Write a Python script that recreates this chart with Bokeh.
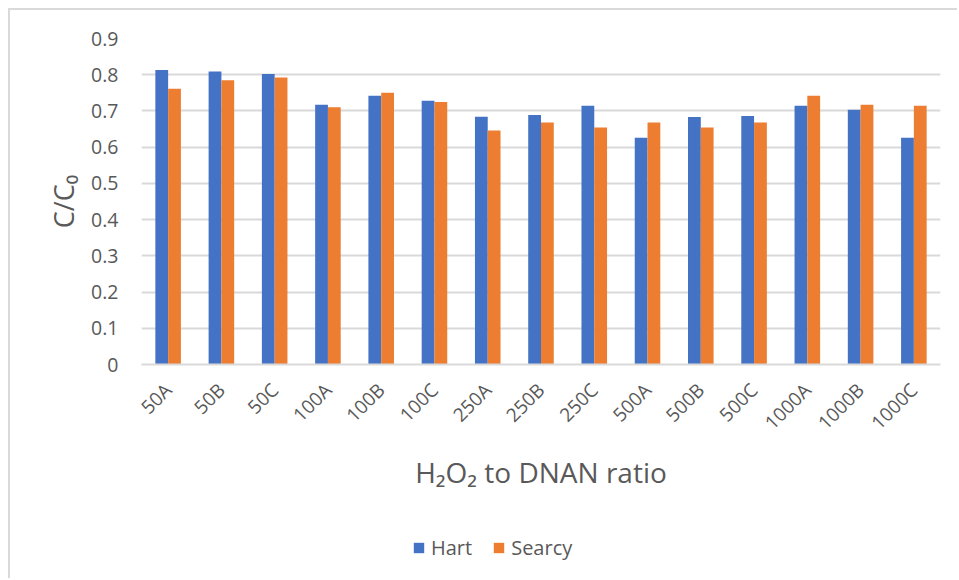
import math
from bokeh.plotting import figure
from bokeh.layouts import column
from bokeh.models import (ColumnDataSource, FactorRange, FixedTicker, NumeralTickFormatter,
                          Legend, LegendItem)
from bokeh.transform import dodge
from bokeh.embed import file_html
from bokeh.resources import INLINE

categories = ["50A", "50B", "50C", "100A", "100B", "100C", "250A", "250B", "250C",
              "500A", "500B", "500C", "1000A", "1000B", "1000C"]
hart = [0.813, 0.809, 0.802, 0.717, 0.742, 0.728, 0.684, 0.689, 0.714,
        0.626, 0.683, 0.686, 0.714, 0.703, 0.626]
searcy = [0.761, 0.785, 0.792, 0.710, 0.750, 0.725, 0.646, 0.668, 0.654,
          0.668, 0.654, 0.668, 0.742, 0.717, 0.714]
y_ticks = [0, 0.1, 0.2, 0.3, 0.4, 0.5, 0.6, 0.7, 0.8, 0.9]
series_names = ["Hart", "Searcy"]

BLUE = "#4472C4"
ORANGE = "#ED7D31"
GRID = "#d9d9d9"
TEXT = "#595959"
FONT = "Open Sans"

src = ColumnDataSource(data=dict(cat=categories, hart=hart, searcy=searcy))

p = figure(width=949, height=500, x_range=FactorRange(factors=categories),
           y_range=(0, 0.9), output_backend="svg", toolbar_location=None,
           min_border_left=131, min_border_right=19, min_border_top=28,
           min_border_bottom=146)
p.margin = (8, 0, 0, 8)
p.styles = {"border-top": f"2px solid {GRID}", "border-left": f"2px solid {GRID}"}
p.outline_line_color = None
p.background_fill_color = "white"
p.border_fill_color = "white"

r1 = p.vbar(x=dodge("cat", -0.12, range=p.x_range), top="hart", width=0.24,
            source=src, fill_color=BLUE, line_color=None)
r2 = p.vbar(x=dodge("cat", 0.12, range=p.x_range), top="searcy", width=0.24,
            source=src, fill_color=ORANGE, line_color=None)

p.xgrid.grid_line_color = None
p.ygrid.grid_line_color = GRID
p.ygrid.grid_line_width = 2
p.ygrid.ticker = FixedTicker(ticks=y_ticks)

p.yaxis.ticker = FixedTicker(ticks=y_ticks)
p.yaxis.formatter = NumeralTickFormatter(format="0.[0]")
p.yaxis.axis_line_color = None
p.yaxis.major_tick_line_color = None
p.yaxis.minor_tick_line_color = None
p.yaxis.major_label_standoff = 17
p.yaxis.major_label_text_font = FONT
p.yaxis.major_label_text_font_size = "19.5px"
p.yaxis.major_label_text_color = TEXT
p.yaxis.axis_label = "C/C₀"
p.yaxis.axis_label_text_font = FONT
p.yaxis.axis_label_text_font_size = "27px"
p.yaxis.axis_label_text_font_style = "normal"
p.yaxis.axis_label_text_color = TEXT
p.yaxis.axis_label_standoff = 6

p.xaxis.axis_line_color = GRID
p.xaxis.axis_line_width = 2
p.xaxis.major_tick_line_color = None
p.xaxis.minor_tick_line_color = None
p.xaxis.major_label_orientation = math.pi / 4
p.xaxis.major_label_standoff = 16
p.xaxis.major_label_text_font = FONT
p.xaxis.major_label_text_font_size = "19px"
p.xaxis.major_label_text_color = TEXT
p.xaxis.axis_label = "H₂O₂ to DNAN ratio"
p.xaxis.axis_label_text_font = FONT
p.xaxis.axis_label_text_font_size = "28px"
p.xaxis.axis_label_text_font_style = "normal"
p.xaxis.axis_label_text_color = TEXT
p.xaxis.axis_label_standoff = 6

# legend strip below the chart (swatch renderers sit outside the visible range)
pl = figure(width=949, height=70, output_backend="svg", toolbar_location=None,
            x_axis_type=None, y_axis_type=None, min_border=0,
            x_range=(0, 1), y_range=(0, 1))
pl.margin = (0, 0, 0, 8)
pl.styles = {"border-left": f"2px solid {GRID}"}
pl.outline_line_color = None
pl.grid.visible = False
swatch = ColumnDataSource(data=dict(x=[-5.0], top=[-5.0]))
l1 = pl.vbar(x="x", top="top", width=0.1, source=swatch, fill_color=BLUE, line_color=None)
l2 = pl.vbar(x="x", top="top", width=0.1, source=swatch, fill_color=ORANGE, line_color=None)
legend = Legend(items=[LegendItem(label=series_names[0], renderers=[l1]),
                       LegendItem(label=series_names[1], renderers=[l2])],
                orientation="horizontal", location=(271, 17))
legend.border_line_color = None
legend.background_fill_alpha = 0
legend.label_text_font = FONT
legend.label_text_font_size = "20px"
legend.label_text_color = TEXT
legend.glyph_width = 13
legend.glyph_height = 13
legend.label_standoff = 6
legend.spacing = 20
legend.margin = 0
legend.padding = 0
pl.add_layout(legend, "center")

layout = column(p, pl, spacing=0)
open("out.html", "w").write(file_html(layout, INLINE))
